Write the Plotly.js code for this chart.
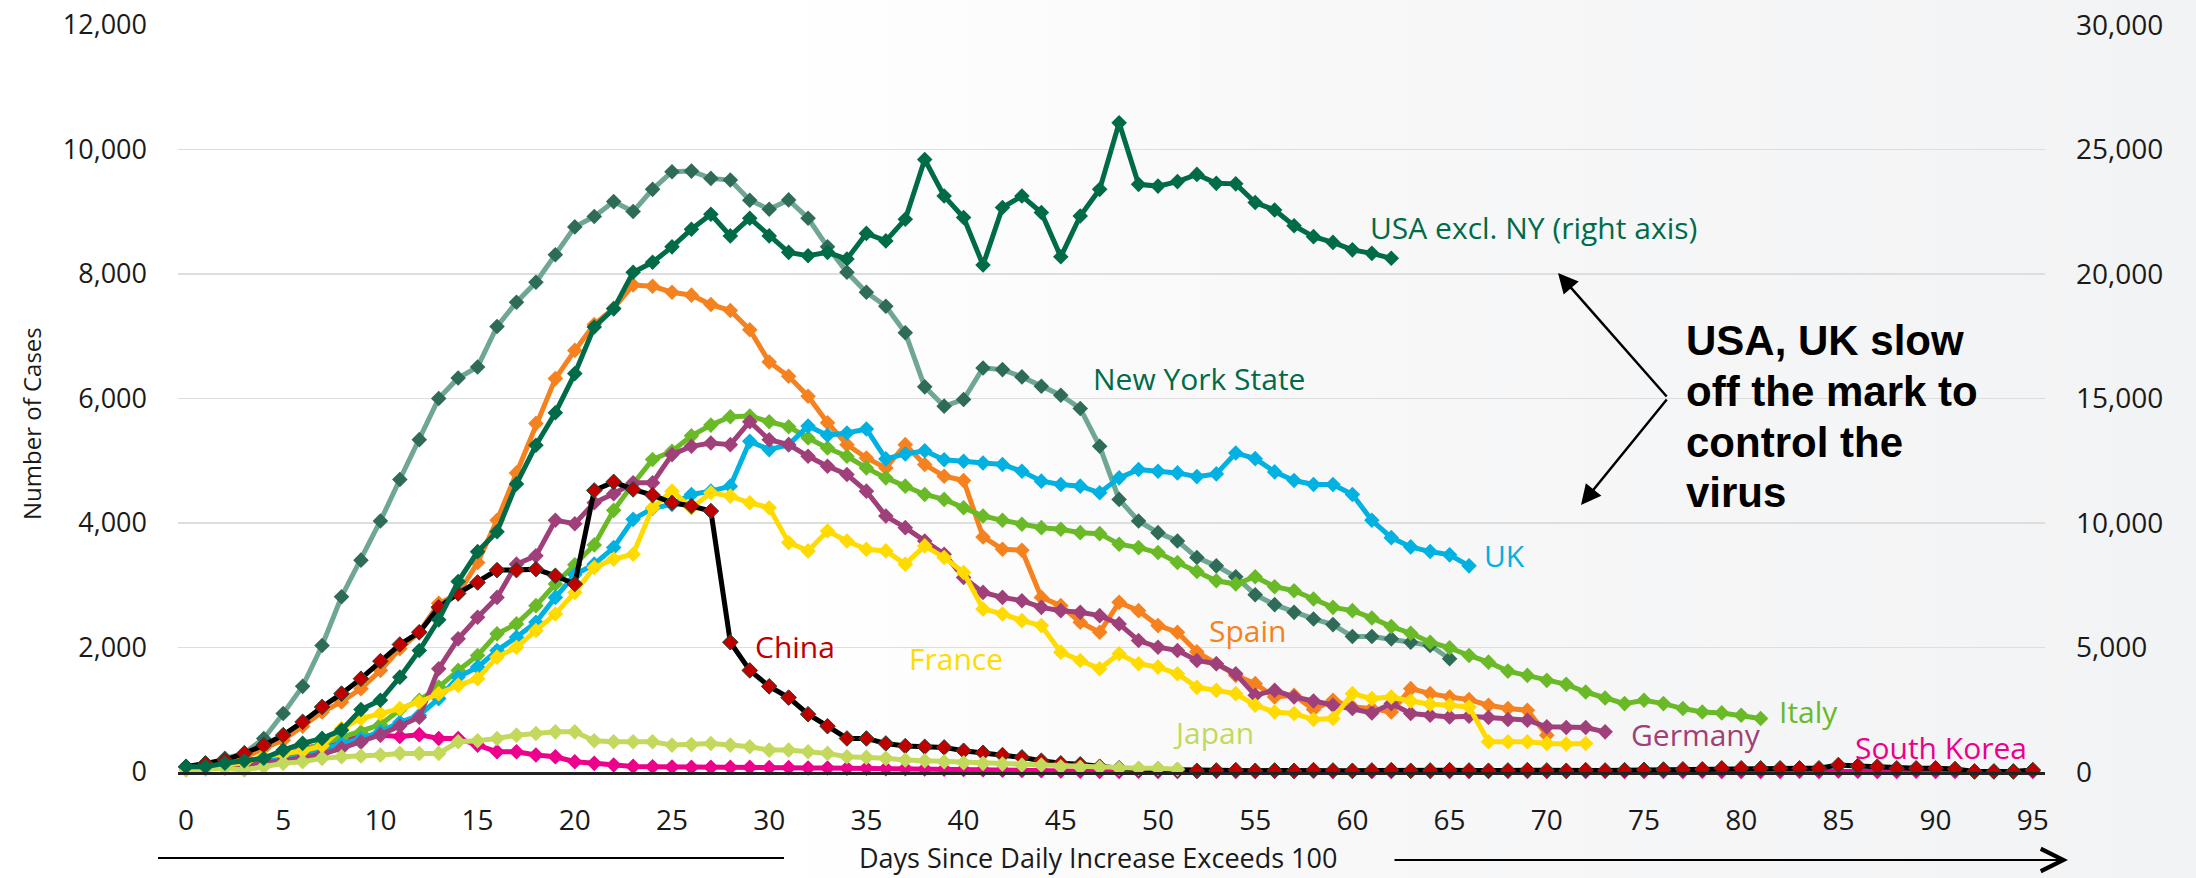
<!DOCTYPE html>
<html>
<head>
<meta charset="utf-8">
<script src="https://cdn.plot.ly/plotly-3.0.1.min.js"></script>
<style>
  html, body { margin: 0; padding: 0; }
  body { width: 2196px; height: 878px; overflow: hidden;
         background: linear-gradient(90deg, #ffffff 0%, #ffffff 35%, #f8f8f9 60%, #f2f3f4 100%); }
  #chart { width: 2196px; height: 878px; }
</style>
</head>
<body>
<div id="chart"></div>
<script>
// ---- Data: daily new cases, indexed by days since daily increase exceeded 100 ----
const xTicks = [0,5,10,15,20,25,30,35,40,45,50,55,60,65,70,75,80,85,90,95];

const newYorkState = [85,110,219,300,539,939,1376,2032,2816,3403,4032,4699,5339,6000,6330,6507,7157,7547,7867,8310,
  8757,8923,9163,9003,9360,9643,9653,9536,9509,9184,9040,9190,8896,8437,8027,7707,7483,7056,6187,5877,
  5984,6491,6464,6347,6197,6053,5840,5232,4379,4032,3845,3712,3445,3312,3136,2848,2688,2565,2459,2368,
  2176,2176,2139,2085,2032,1819];

// right axis (0 - 30,000)
const usaExNY = [210,210,350,450,550,880,1150,1350,1680,2510,2880,3810,4880,6110,7650,8850,9650,11570,13120,14430,
  16000,17870,18600,20070,20470,21090,21800,22400,21530,22240,21530,20870,20730,20870,20600,21630,21330,22200,24600,23130,
  22270,20360,22670,23130,22470,20690,22330,23400,26070,23600,23530,23710,24000,23640,23620,22870,22570,21940,21500,21270,
  20970,20830,20630];

const spain = [85,100,150,230,379,512,736,965,1125,1339,1632,1979,2245,2709,2859,3365,4043,4805,5600,6320,
  6773,7189,7450,7824,7803,7707,7660,7509,7413,7104,6587,6357,6037,5611,5259,5045,4885,5259,4939,4752,
  4683,3776,3579,3563,2805,2672,2405,2245,2725,2592,2352,2245,1930,1739,1552,1419,1205,1232,1003,1152,
  1045,1019,965,1339,1259,1205,1163,1072,1019,992,592];

const italy = [85,100,130,170,210,280,350,450,550,640,760,1000,1150,1365,1632,1872,2219,2379,2672,3019,
  3328,3648,4203,4629,5019,5152,5400,5573,5707,5717,5627,5547,5365,5205,5072,4885,4725,4592,4459,4379,
  4245,4112,4043,3979,3925,3899,3845,3829,3659,3605,3525,3365,3220,3072,3019,3136,2976,2912,2779,2645,
  2592,2475,2336,2229,2085,1995,1872,1765,1621,1552,1472,1408,1285,1189,1099,1152,1099,1019,965,949,
  912,859];

const uk = [85,90,110,140,180,230,290,360,450,539,645,800,912,1179,1525,1685,1952,2165,2405,2805,
  3168,3339,3605,4059,4235,4299,4459,4512,4592,5312,5179,5259,5557,5410,5446,5510,5030,5110,5160,5015,
  4992,4965,4939,4832,4672,4619,4592,4485,4725,4859,4832,4805,4745,4789,5125,5034,4821,4683,4619,4619,
  4459,4043,3765,3616,3541,3488,3312];

const germany = [85,90,100,120,150,180,230,290,380,480,600,740,880,1659,2139,2485,2805,3339,3472,4043,
  3989,4325,4469,4645,4645,5099,5232,5285,5259,5627,5338,5259,5072,4912,4779,4512,4112,3925,3712,3499,
  3125,2885,2805,2752,2645,2592,2565,2512,2379,2112,2005,1952,1792,1739,1579,1232,1312,1205,1141,1072,
  1019,949,1099,939,912,885,896,875,843,832,725,715,715,645];

const france = [85,90,110,150,250,290,340,420,700,859,939,1019,1125,1259,1392,1499,1845,2005,2272,2539,
  2885,3285,3419,3499,4245,4512,4245,4485,4432,4325,4245,3685,3552,3872,3712,3579,3552,3339,3632,3445,
  3205,2619,2539,2432,2352,1925,1792,1659,1899,1739,1685,1579,1360,1312,1259,1072,965,939,843,859,
  1259,1179,1205,1141,1088,1072,1045,485,485,485,459,448,459];

const china = [85,139,192,300,432,592,805,1045,1259,1499,1781,2048,2245,2645,2869,3045,3243,3243,3259,3152,
  3019,4523,4661,4539,4448,4325,4272,4192,2085,1632,1376,1195,928,736,539,539,459,416,405,395,
  341,309,272,235,181,139,123,85,60,45,40,30,20,25,30,20,25,20,30,25,
  20,25,30,20,25,30,25,20,25,30,25,20,30,25,30,35,40,43,43,59,
  59,59,59,59,59,112,96,85,59,59,59,48,10,10,10,32];

const japan = [32,43,59,32,85,139,165,219,245,256,272,299,299,299,485,501,539,592,619,645,
  645,501,485,485,485,432,440,459,432,405,352,352,325,299,245,235,219,192,181,165,
  149,139,128,112,112,85,75,75,59,59,59,43];

const southKorea = [85,100,140,180,200,272,379,432,512,565,592,570,600,539,539,432,325,325,272,245,
  165,139,112,90,85,80,75,75,75,75,70,70,65,65,60,60,55,55,50,45,
  40,35,30,25,20,15,12,10,10,12,10,8,10,12,10,8,10,10,12,10,
  8,10,10,12,10,8,10,10,12,10,8,10,10,12,10,8,10,10,12,10,
  8,10,10,12,10,15,12,10,10,12,10,8,5,5,5,8];

// ---- helpers ----
const FONT = '"Open Sans", "Noto Sans", sans-serif';
const W = 2196, H = 878;
const L = 178, R = 2045, T = 25, B = 772;
const px = v => (v - L) / (R - L);
const py = v => (B - v) / (B - T);
const days = arr => arr.map((_, i) => i);

function series(name, values, lineColor, markerColor, opts = {}) {
  return Object.assign({
    type: 'scatter', mode: 'lines+markers', name: name,
    x: days(values), y: values, cliponaxis: false,
    line: { color: lineColor, width: 5 },
    marker: { symbol: 'diamond', size: 12, color: markerColor,
              line: { color: markerColor, width: 0 } },
    hoverinfo: 'x+y+name'
  }, opts);
}

const C = {
  nyLine: '#6fa792', nyMark: '#2f6b59', usa: '#006b48', spain: '#f5821f', italy: '#6aba28',
  uk: '#00b1e1', germany: '#a0407a', france: '#ffdb00', china: '#c00000', japan: '#c3d95c', sk: '#ec008c'
};

const traces = [
  series('South Korea', southKorea, C.sk, C.sk),
  series('New York State', newYorkState, C.nyLine, C.nyMark),
  series('USA excl. NY', usaExNY, C.usa, C.usa, { yaxis: 'y2' }),
  series('Spain', spain, C.spain, C.spain),
  series('Italy', italy, C.italy, C.italy),
  series('UK', uk, C.uk, C.uk),
  series('Germany', germany, C.germany, C.germany),
  series('France', france, C.france, C.france),
  series('China', china, '#000000', C.china,
         { marker: { symbol: 'diamond', size: 12, color: C.china, line: { color: '#1c4a33', width: 1 } } }),
  series('Japan', japan, C.japan, C.japan)
];

function label(text, left, cy, color, size = 30) {
  return { xref: 'paper', yref: 'paper', x: px(left), y: py(cy), xanchor: 'left', yanchor: 'middle',
           text: text, showarrow: false, font: { family: FONT, size: size, color: color } };
}

const annotations = [
  label('USA excl. NY (right axis)', 1368, 227, C.usa),
  label('New York State', 1091, 378, C.usa),
  label('UK', 1482, 555, C.uk),
  label('Spain', 1207, 630, C.spain),
  label('Italy', 1777, 711, C.italy),
  label('Germany', 1629, 734, C.germany),
  label('France', 907, 658, C.france),
  label('China', 753, 646, C.china),
  label('Japan', 1171, 732, C.japan),
  label('South Korea', 1853, 747, C.sk),
  // callout text
  ...['USA, UK slow', 'off the mark to', 'control the', 'virus'].map((t, i) => ({
    xref: 'paper', yref: 'paper', x: px(1684), y: py([340, 391, 442, 492][i]),
    xanchor: 'left', yanchor: 'middle', showarrow: false, text: '<b>' + t + '</b>',
    font: { family: '"Liberation Sans", Arial, sans-serif', size: 42, color: '#000' }
  })),
  // callout arrows
  { xref: 'paper', yref: 'paper', x: px(1558), y: py(273), ax: 110, ay: 125, text: '',
    showarrow: true, arrowhead: 2, arrowsize: 1.6, arrowwidth: 2.5, arrowcolor: '#000', standoff: 0, startstandoff: 0 },
  { xref: 'paper', yref: 'paper', x: px(1581), y: py(505), ax: 87, ay: -107, text: '',
    showarrow: true, arrowhead: 2, arrowsize: 1.6, arrowwidth: 2.5, arrowcolor: '#000', standoff: 0, startstandoff: 0 },
  // x axis arrow
  { xref: 'paper', yref: 'paper', x: px(2068), y: py(860), ax: -675, ay: 0, text: '',
    showarrow: true, arrowhead: 5, arrowsize: 2, arrowwidth: 2.2, arrowcolor: '#000', standoff: 0, startstandoff: 0 },
  // axis titles
  { xref: 'paper', yref: 'paper', x: px(1098), y: py(857), xanchor: 'center', yanchor: 'middle', showarrow: false,
    text: 'Days Since Daily Increase Exceeds 100', font: { family: FONT, size: 27, color: '#1a1a1a' } },
  { xref: 'paper', yref: 'paper', x: px(31), y: py(424), xanchor: 'center', yanchor: 'middle', showarrow: false,
    textangle: -90, text: 'Number of Cases', font: { family: FONT, size: 24, color: '#1a1a1a' } }
];

const layout = {
  width: W, height: H,
  margin: { l: L, r: W - R, t: T, b: H - B, pad: 0 },
  paper_bgcolor: 'rgba(0,0,0,0)', plot_bgcolor: 'rgba(0,0,0,0)',
  showlegend: false,
  font: { family: FONT, color: '#1a1a1a' },
  xaxis: {
    range: [(L - 186) / 19.44, (R - 186) / 19.44], tickmode: 'array', tickvals: xTicks,
    showgrid: false, zeroline: false, showline: true, linecolor: '#222', linewidth: 2.5,
    ticks: '', ticklabelstandoff: 22, tickfont: { family: FONT, size: 28, color: '#1a1a1a' }
  },
  yaxis: {
    range: [0, 12000], dtick: 2000, tick0: 0, tickformat: ',', showgrid: true,
    gridcolor: '#dedede', gridwidth: 1.5, zeroline: false, showline: false, ticks: '',
    ticklabelstandoff: 30, tickfont: { family: FONT, size: 27, color: '#1a1a1a' }
  },
  yaxis2: {
    range: [0, 30000], dtick: 5000, tick0: 0, tickformat: ',', overlaying: 'y', side: 'right',
    showgrid: false, zeroline: false, showline: false, ticks: '',
    ticklabelstandoff: 30, tickfont: { family: FONT, size: 28, color: '#1a1a1a' }
  },
  shapes: [
    { type: 'line', xref: 'paper', yref: 'paper', x0: px(158), x1: px(784), y0: py(858), y1: py(858),
      line: { color: '#000', width: 2.2 } }
  ],
  annotations: annotations
};

Plotly.newPlot('chart', traces, layout, { displayModeBar: false, staticPlot: true });
</script>
</body>
</html>
